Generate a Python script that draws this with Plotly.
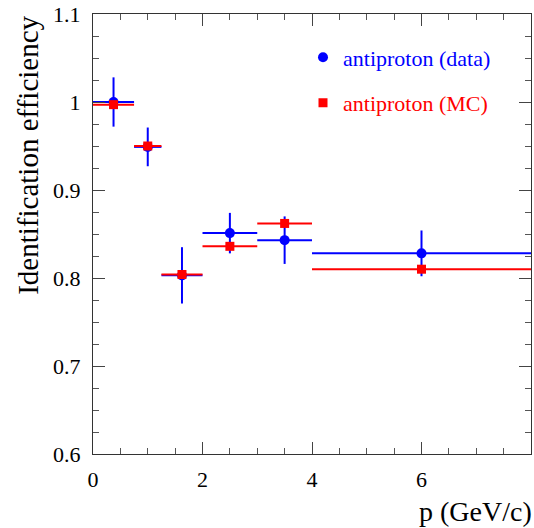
import plotly.graph_objects as go

# Momentum bins (GeV/c)
p_center = [0.375, 1.0, 1.625, 2.5, 3.5, 6.0]
p_halfwidth = [0.375, 0.25, 0.375, 0.5, 0.5, 2.0]

# Antiproton identification efficiency
eff_data = [1.000, 0.949, 0.803, 0.851, 0.843, 0.828]
eff_data_err = [0.028, 0.022, 0.032, 0.023, 0.027, 0.026]
eff_mc = [0.997, 0.950, 0.804, 0.836, 0.862, 0.810]

BLUE = "#0000ff"
RED = "#ff0000"
FONT = "Liberation Serif"

W, H = 534, 528
X_DOMAIN = [93 / W, 531 / W]
Y_DOMAIN = [(H - 454) / H, (H - 14) / H]

fig = go.Figure()
fig.add_trace(go.Scatter(
    x=p_center, y=eff_data, mode="markers",
    name=f"<span style='color:{BLUE}'>antiproton (data)</span>",
    legendgroup="a",
    marker=dict(symbol="circle", size=10, color=BLUE),
    error_x=dict(type="data", array=p_halfwidth, width=0, thickness=2, color=BLUE),
    error_y=dict(type="data", array=eff_data_err, width=0, thickness=2, color=BLUE),
))
fig.add_trace(go.Scatter(
    x=p_center, y=eff_mc, mode="markers",
    name=f"<span style='color:{RED}'>antiproton (MC)</span>",
    legendgroup="b",
    marker=dict(symbol="square", size=9, color=RED),
    error_x=dict(type="data", array=p_halfwidth, width=0, thickness=2, color=RED),
))

tick_style = dict(ticks="inside", ticklen=12, tickcolor="#444444", tickwidth=1)
axis_common = dict(
    showline=True, mirror="ticks", linecolor="#333333",
    showgrid=False, zeroline=False, automargin=False,
    tickfont=dict(family=FONT, size=22, color="black"),
    **tick_style,
)
x_minor = dict(ticks="inside", ticklen=6, dtick=0.5, tickcolor="#555555", tickwidth=1)
y_minor = dict(ticks="inside", ticklen=6, dtick=0.025, tickcolor="#555555", tickwidth=1)

fig.update_layout(
    width=W, height=H,
    margin=dict(l=0, r=0, t=0, b=0),
    plot_bgcolor="white",
    xaxis=dict(domain=X_DOMAIN, range=[0, 8], dtick=2, ticklabelstandoff=6,
               minor=x_minor, **axis_common),
    yaxis=dict(domain=Y_DOMAIN, range=[0.6, 1.1], dtick=0.1, ticklabelstandoff=7,
               minor=y_minor, **axis_common),
    # overlay axes that only carry the inside tick marks
    xaxis2=dict(overlaying="x", anchor="y", side="bottom", range=[0, 8], dtick=2,
                showticklabels=False, showline=False, showgrid=False, zeroline=False,
                mirror="ticks", minor=x_minor, automargin=False, **tick_style),
    yaxis2=dict(overlaying="y", anchor="x", side="left", range=[0.6, 1.1], dtick=0.1,
                showticklabels=False, showline=False, showgrid=False, zeroline=False,
                mirror="ticks", minor=y_minor, automargin=False, **tick_style),
    showlegend=True,
    legend=dict(x=303 / W, y=1 - 36.4 / H, xanchor="left", yanchor="top",
                tracegroupgap=14, traceorder="grouped",
                font=dict(family=FONT, size=22)),
    annotations=[
        dict(text="p (GeV/c)", xref="paper", yref="paper", x=1.0, y=1 - 493.6 / H,
             xanchor="right", yanchor="top", showarrow=False,
             font=dict(family=FONT, size=28, color="black")),
        dict(text="Identification efficiency", xref="paper", yref="paper",
             x=27.3 / W, y=1 - 14 / H, xanchor="center", yanchor="top", textangle=-90,
             showarrow=False, font=dict(family=FONT, size=29, color="black")),
    ],
)
fig.write_html("out.html")
